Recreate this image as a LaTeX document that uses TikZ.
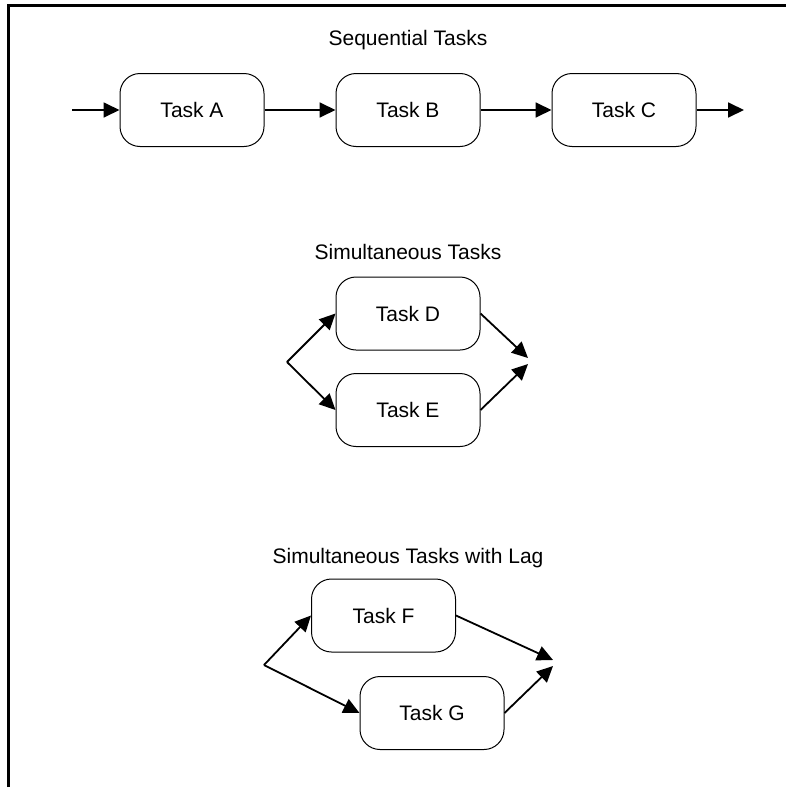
\documentclass[tikz,border=0pt]{standalone}
\usepackage{fontspec}
\setmainfont{Liberation Sans}
\usetikzlibrary{arrows.meta}
\tikzset{
  task/.style={draw, line width=1pt, rounded corners=20pt, minimum width=144pt,
    minimum height=73pt, inner sep=0pt, font=\fontsize{21}{24}\selectfont,
    text height=15pt, text depth=0pt},
  heading/.style={anchor=base, inner sep=0pt, font=\fontsize{21}{24}\selectfont},
  flow/.style={line width=1.8pt, -{Triangle[length=16pt,width=15pt]}},
  frame/.style={line width=3pt}
}
\begin{document}
\begin{tikzpicture}[x=1pt,y=-1pt]
\useasboundingbox (0,0) rectangle (794,787);
% frame edges
\coordinate (fl) at (8,787);
\coordinate (fc) at (8,5);
\coordinate (fr) at (786,5);
\draw[frame] (fl) -- (fc) -- (fr);

% sequential tasks
\node[heading] (h1) at (408,45) {Sequential Tasks};
\node[task] (A) at (192,110) {Task A};
\node[task] (B) at (408,110) {Task B};
\node[task] (C) at (624,110) {Task C};
\coordinate (in) at (72,110);
\coordinate (out) at (744,110);
\draw[flow] (in) -- (A.west);
\draw[flow] (A.east) -- (B.west);
\draw[flow] (B.east) -- (C.west);
\draw[flow] (C.east) -- (out);

% simultaneous tasks
\node[heading] (h2) at (408,259) {Simultaneous Tasks};
\node[task] (D) at (408,313.5) {Task D};
\node[task] (E) at (408,410) {Task E};
\coordinate (s1) at (287,362);
\coordinate (m1a) at (528,358);
\coordinate (m1b) at (528,364);
\draw[flow] (s1) -- (D.west);
\draw[flow] (s1) -- (E.west);
\draw[flow] (D.east) -- (m1a);
\draw[flow] (E.east) -- (m1b);

% simultaneous tasks with lag
\node[heading] (h3) at (408,563) {Simultaneous Tasks with Lag};
\node[task] (F) at (383.5,615.5) {Task F};
\node[task] (G) at (432,713) {Task G};
\coordinate (s2) at (264,665);
\coordinate (m2a) at (553,660);
\coordinate (m2b) at (553,666);
\draw[flow] (s2) -- (F.west);
\draw[flow] (s2) -- (G.west);
\draw[flow] (F.east) -- (m2a);
\draw[flow] (G.east) -- (m2b);
\end{tikzpicture}
\end{document}
